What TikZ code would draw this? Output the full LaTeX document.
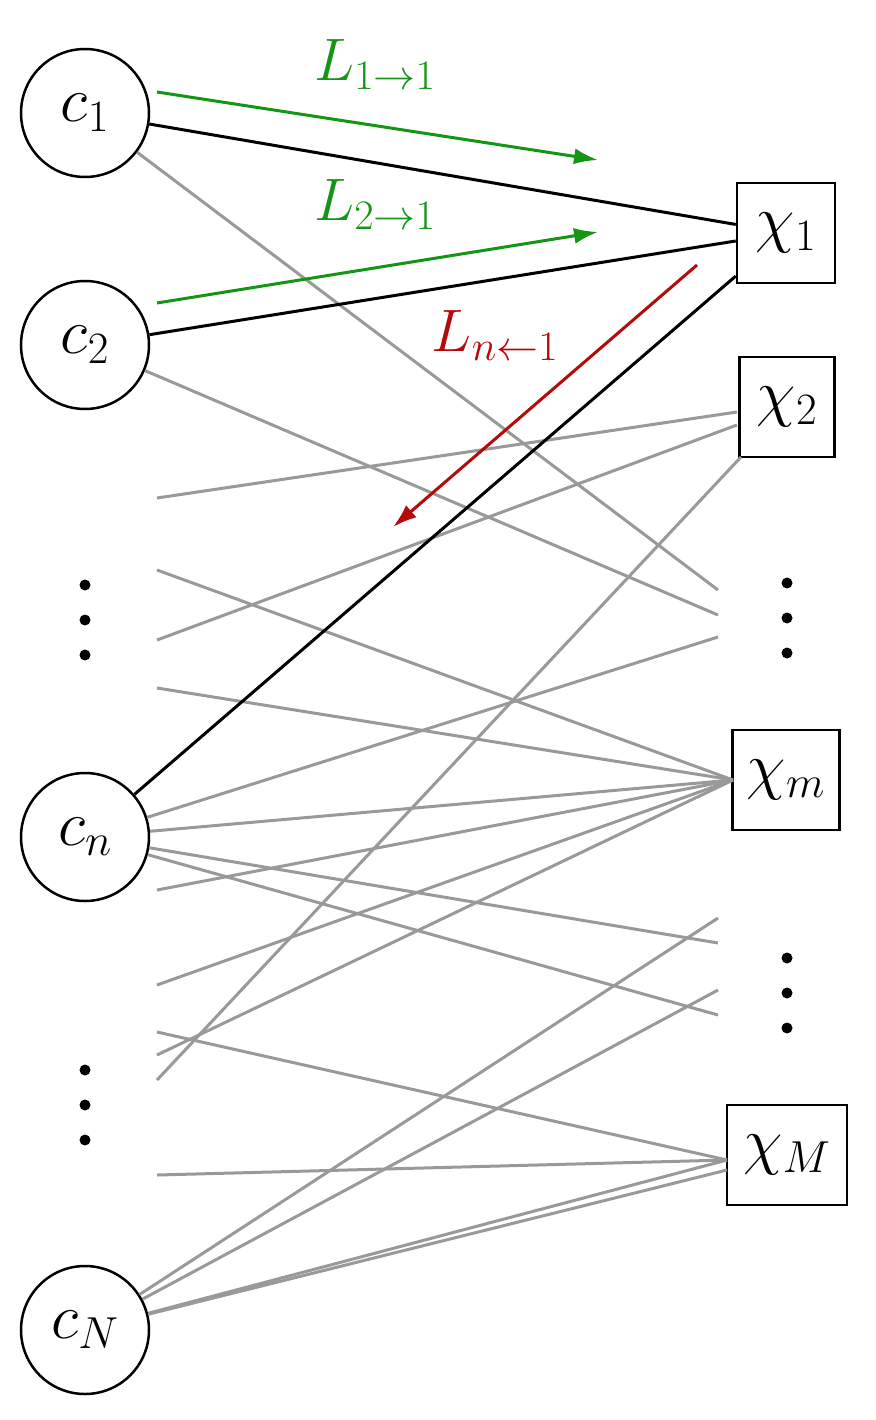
\RequirePackage{fix-cm}
\documentclass[tikz,border=0pt]{standalone}
\usetikzlibrary{arrows.meta}
\begin{document}
\begin{tikzpicture}[x=1pt,y=-1pt,
  cn/.style={circle,draw,line width=2.5pt,minimum size=128pt,inner sep=0pt,font=\fontsize{64}{72}\selectfont},
  xn/.style={rectangle,draw,line width=2.5pt,minimum height=100pt,inner sep=4pt,font=\fontsize{64}{72}\selectfont},
  g/.style={draw=gray!80,line width=3pt},
  b/.style={draw=black,line width=3pt},
  dot/.style={circle,fill=black,inner sep=0pt,minimum size=11pt},
  lab/.style={font=\fontsize{60}{66}\selectfont},
  arr/.style={line width=3pt,-{Latex[length=24pt,width=16pt]}}]
\useasboundingbox (0,0) rectangle (875,1420);
\node[cn] (c1) at (85,113) {$c_1$};
\node[cn] (c2) at (85,345) {$c_2$};
\node[cn] (cn) at (85,837) {$c_n$};
\node[cn] (cN) at (85,1330) {$c_N$};
\node[xn,minimum width=98pt] (x1) at (786,233) {$\chi_1$};
\node[xn,minimum width=95pt] (x2) at (787,407) {$\chi_2$};
\node[xn,minimum width=107pt] (xm) at (786,780) {$\chi_m$};
\node[xn,minimum width=120pt] (xM) at (787,1155) {$\chi_M$};
\foreach \n/\x/\y in {1/85/585,2/85/620,3/85/655,4/85/1070,5/85/1105,6/85/1140,7/787/583,8/787/618,9/787/653,10/787/958,11/787/993,12/787/1028}
  \node[dot] (d\n) at (\x,\y) {};
% free ends
\foreach \n/\x/\y in {r1/718/590,r2/718/615,r3/718/637,r4/718/943,r5/718/1015,r6/718/918,r7/718/990,
  l1/157/498,l2/157/570,l3/157/640,l4/157/688,l5/157/890,l6/157/985,l7/157/1055,l8/157/1080,l9/157/1032,l10/157/1175,
  xmw/733/780,xMw/727/1160}
  \coordinate (\n) at (\x,\y);
\draw[g] (c1)--(r1);
\draw[g] (c2)--(r2);
\draw[g] (l1)--(737,412);
\draw[g] (l2)--(xmw);
\draw[g] (l3)--(737,425);
\draw[g] (l4)--(xmw);
\draw[g] (cn)--(r3);
\draw[g] (cn)--(xmw);
\draw[g] (l5)--(xmw);
\draw[g] (cn)--(r4);
\draw[g] (cn)--(r5);
\draw[g] (l6)--(xmw);
\draw[g] (l7)--(xmw);
\draw[g] (l8)--(741,457);
\draw[g] (l9)--(xMw);
\draw[g] (l10)--(xMw);
\draw[g] (cN)--(r6);
\draw[g] (cN)--(r7);
\draw[g] (cN)--(xMw);
\draw[g] (cN)--(727,1170);
\draw[b] (c1)--(x1);
\draw[b] (c2)--(x1);
\draw[b] (cn)--(x1);
\definecolor{gr}{RGB}{20,150,20}
\definecolor{rd}{RGB}{180,10,10}
\coordinate (a1) at (157,92); \coordinate (a2) at (598,160);
\coordinate (a3) at (157,303); \coordinate (a4) at (598,232);
\coordinate (a5) at (697,265); \coordinate (a6) at (393,527);
\draw[gr,arr] (a1)--(a2);
\draw[gr,arr] (a3)--(a4);
\draw[rd,arr] (a5)--(a6);
\node[lab,text=gr] (t1) at (375,65) {$L_{1\to1}$};
\node[lab,text=gr] (t2) at (375,205) {$L_{2\to1}$};
\node[lab,text=rd] (t3) at (495,335) {$L_{n\leftarrow1}$};
\end{tikzpicture}
\end{document}
